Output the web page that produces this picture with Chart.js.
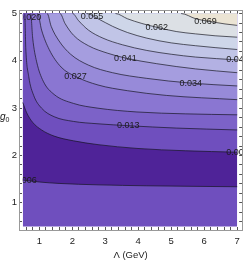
<!DOCTYPE html>
<html>
<head>
<meta charset="utf-8">
<script src="https://cdn.jsdelivr.net/npm/chart.js@4.4.1/dist/chart.umd.min.js"></script>
<style>
  html, body { margin: 0; padding: 0; background: #fff; }
  #wrap { width: 249px; height: 261px; }
</style>
</head>
<body>
<div id="wrap"><canvas id="contourChart" width="249" height="261"></canvas></div>
<script>
// contour levels, bottom to top (0.006 shows up twice, the function dips under it in the dark band)
const levels = ['0.006', '0.006', '0.013', '0.020', '0.027', '0.034', '0.041', '0.048', '0.055', '0.062', '0.069'];

// contours as [Lambda, g0] points left to right
const c006lo = [[0.5, 1.48], [1.0, 1.44], [1.6, 1.41], [2.78, 1.38], [4.26, 1.36], [7.0, 1.34]];
const c006hi = [[0.5, 3.12], [0.62, 2.90], [0.80, 2.70], [1.07, 2.54], [1.45, 2.41], [2.04, 2.31], [2.78, 2.23], [3.96, 2.15], [5.44, 2.10], [7.0, 2.07]];
const c013 = [[0.5, 5], [0.56, 5], [0.59, 4.28], [0.68, 3.67], [0.83, 3.27], [1.07, 3.00], [1.45, 2.82], [2.04, 2.72], [2.78, 2.67], [3.70, 2.63], [5.15, 2.58], [7.0, 2.54]];
const c020 = [[0.5, 5], [0.74, 5], [0.80, 4.48], [0.92, 3.98], [1.12, 3.57], [1.45, 3.29], [2.04, 3.10], [2.78, 3.00], [3.96, 2.92], [5.44, 2.88], [7.0, 2.86]];
const c027 = [[0.5, 5], [0.95, 5], [1.07, 4.65], [1.30, 4.24], [1.66, 3.87], [2.10, 3.67], [2.78, 3.49], [3.67, 3.37], [4.85, 3.27], [7.0, 3.18]];
const c034 = [[0.5, 5], [1.24, 5], [1.36, 4.73], [1.60, 4.42], [1.95, 4.14], [2.49, 3.91], [3.22, 3.75], [4.26, 3.63], [5.59, 3.53], [7.0, 3.47]];
const c041 = [[0.5, 5], [1.63, 5], [1.78, 4.79], [2.04, 4.54], [2.49, 4.32], [3.08, 4.16], [3.61, 4.06], [4.56, 3.94], [5.74, 3.83], [7.0, 3.75]];
const c048 = [[0.5, 5], [2.01, 5], [2.19, 4.85], [2.49, 4.65], [2.93, 4.48], [3.52, 4.34], [4.26, 4.22], [5.0, 4.14], [5.74, 4.08], [7.0, 4.02]];
const c055 = [[0.5, 5], [2.43, 5], [2.78, 4.89], [3.22, 4.73], [3.67, 4.60], [4.26, 4.48], [5.0, 4.38], [5.74, 4.32], [6.33, 4.28], [7.0, 4.24]];
const c062 = [[0.5, 5], [3.31, 5], [3.67, 4.89], [4.11, 4.79], [4.56, 4.71], [5.15, 4.62], [5.74, 4.57], [6.33, 4.53], [7.0, 4.50]];
const c069 = [[0.5, 5], [5.30, 5], [5.74, 4.89], [6.18, 4.83], [6.63, 4.78], [7.0, 4.75]];

// where the contour values are printed
const labelText = ['0.006', '0.006', '0.013', '0.020', '0.027', '0.034', '0.041', '0.048', '0.055', '0.062', '0.069'];
const labelX = [0.58, 7.01, 3.70, 0.72, 2.10, 5.59, 3.61, 7.01, 2.60, 4.56, 6.04];
const labelY = [1.48, 2.07, 2.64, 4.92, 3.67, 3.53, 4.06, 4.02, 4.94, 4.71, 4.84];

const xTickLabels = ['1', '2', '3', '4', '5', '6', '7'];
const yTickLabels = ['1', '2', '3', '4', '5'];

// shading of the band above each contour, plus the bottom region
const baseColor = '#6f4fbe';
const bandColors = ['#4f2398', '#6f4fbe', '#7c62c8', '#8a76d2', '#978ad9', '#a59ddf', '#b3b1e3', '#c1c5e7', '#ced6e9', '#dce0e5', '#ebe4d4'];

const contours = [c006lo, c006hi, c013, c020, c027, c034, c041, c048, c055, c062, c069];

const datasets = [{
  label: 'base',
  data: [{ x: 0.5, y: 0.5 }, { x: 7, y: 0.5 }],
  fill: { value: 5 },
  backgroundColor: baseColor,
  borderWidth: 0,
  pointRadius: 0
}];

contours.forEach((pts, i) => {
  datasets.push({
    label: levels[i],
    data: pts.map(p => ({ x: p[0], y: p[1] })),
    fill: { value: 5 },
    backgroundColor: bandColors[i],
    borderColor: 'rgba(20,20,30,0.85)',
    borderWidth: 0.8,
    pointRadius: 0,
    cubicInterpolationMode: 'monotone',
    segment: {
      // hide the piece that runs along the top edge
      borderColor: c => (c.p0.parsed.y >= 4.999 && c.p1.parsed.y >= 4.999) ? 'rgba(0,0,0,0)' : undefined
    }
  });
});

// first dataset drawn first, so upper bands land on top
datasets.forEach((d, i) => { d.order = datasets.length - i; d.xAxisID = 'x'; d.yAxisID = 'y'; });

const font = '"Liberation Sans", Arial, sans-serif';

const contourLabels = {
  id: 'contourLabels',
  afterDatasetsDraw(chart) {
    const { ctx, chartArea, scales: { x, y } } = chart;
    const left = x.getPixelForValue(0.5);
    const bottom = y.getPixelForValue(0.5);
    ctx.save();
    ctx.beginPath();
    ctx.rect(left, chartArea.top, chartArea.right - left, bottom - chartArea.top);
    ctx.clip();
    ctx.font = '9px ' + font;
    ctx.fillStyle = '#1c1c1c';
    ctx.textAlign = 'center';
    ctx.textBaseline = 'middle';
    labelText.forEach((t, i) => {
      ctx.fillText(t, x.getPixelForValue(labelX[i]), y.getPixelForValue(labelY[i]));
    });
    ctx.restore();
  },
  afterDraw(chart) {
    const ctx = chart.ctx;
    ctx.save();
    ctx.fillStyle = '#222';
    ctx.textBaseline = 'alphabetic';
    ctx.textAlign = 'left';
    ctx.font = 'italic 10px ' + font;
    ctx.fillText('g', 0, 120);
    const w = ctx.measureText('g').width;
    ctx.font = '7px ' + font;
    ctx.fillText('0', w, 122);
    ctx.restore();
  }
};

const near = (v, list) => {
  const r = Math.round(v);
  return Math.abs(v - r) < 1e-6 && list.includes(String(r)) ? String(r) : '';
};

new Chart(document.getElementById('contourChart'), {
  type: 'line',
  data: { datasets },
  options: {
    responsive: false,
    animation: false,
    devicePixelRatio: 1,
    layout: { padding: 0 },
    plugins: {
      legend: { display: false },
      tooltip: { enabled: false }
    },
    scales: {
      x: {
        type: 'linear',
        position: 'bottom',
        min: 0.385,
        max: 7.15,
        afterFit: s => { s.height = 31; },
        ticks: {
          stepSize: 0.2,
          autoSkip: false,
          maxRotation: 0,
          includeBounds: false,
          padding: 9,
          color: '#222',
          font: { family: font, size: 9.5 },
          callback: v => near(v, xTickLabels)
        },
        grid: { drawOnChartArea: false, tickLength: -3, color: '#555' },
        border: { color: '#999' },
        title: {
          display: true,
          text: 'Λ (GeV)',
          color: '#222',
          font: { family: font, size: 9.5 },
          padding: { top: 0, bottom: 0 }
        }
      },
      y: {
        type: 'linear',
        position: 'left',
        min: 0.426,
        max: 5.06,
        afterFit: s => { s.width = 19; },
        ticks: {
          stepSize: 0.2,
          autoSkip: false,
          includeBounds: false,
          padding: 5,
          color: '#222',
          font: { family: font, size: 9.5 },
          callback: v => near(v, yTickLabels)
        },
        grid: { drawOnChartArea: false, tickLength: -3, color: '#555' },
        border: { color: '#999' }
      },
      x2: {
        type: 'linear',
        position: 'top',
        min: 0.385,
        max: 7.15,
        afterFit: s => { s.height = 2; },
        ticks: { display: false, stepSize: 0.2, autoSkip: false, includeBounds: false },
        grid: { drawOnChartArea: false, tickLength: -3, color: '#555' },
        border: { color: '#999' }
      },
      y2: {
        type: 'linear',
        position: 'right',
        min: 0.426,
        max: 5.06,
        afterFit: s => { s.width = 1; },
        ticks: { display: false, stepSize: 0.2, autoSkip: false, includeBounds: false },
        grid: { drawOnChartArea: false, tickLength: -3, color: '#555' },
        border: { color: '#999' }
      }
    }
  },
  plugins: [contourLabels]
});
</script>
</body>
</html>
